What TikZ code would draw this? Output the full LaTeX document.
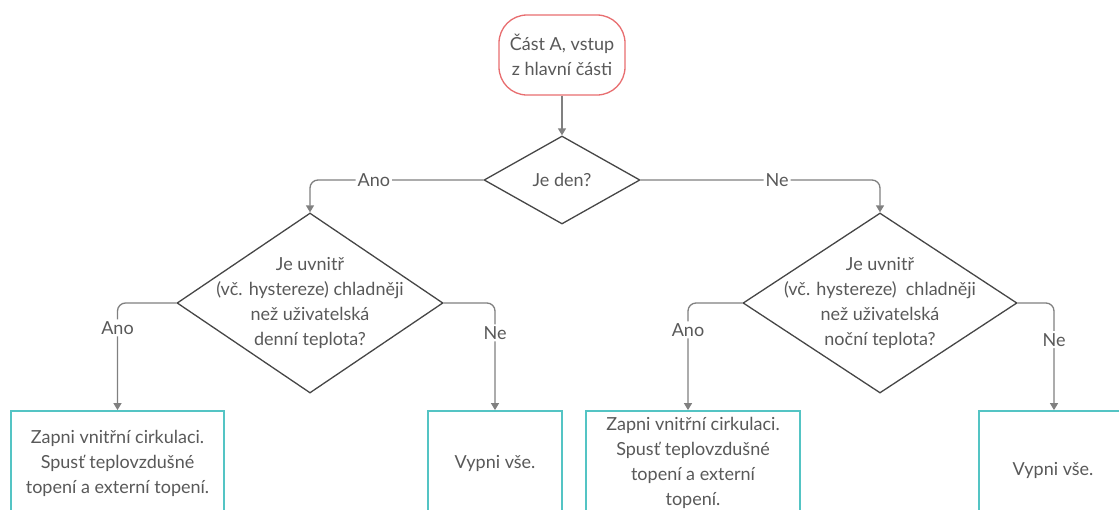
\documentclass[tikz,border=0pt]{standalone}
\usepackage{fontspec}
\setmainfont{Lato}
\usetikzlibrary{shapes.geometric,arrows.meta}
\definecolor{textgray}{RGB}{89,89,89}
\definecolor{startred}{RGB}{232,110,112}
\definecolor{boxteal}{RGB}{84,196,196}
\definecolor{diagray}{RGB}{70,70,70}
\definecolor{linegray}{RGB}{128,128,128}
\begin{document}
\begin{tikzpicture}[x=1pt,y=-1pt,
  txt/.style={font=\fontsize{18}{25}\selectfont, text=textgray, align=center, inner sep=0pt},
  startbox/.style={draw=startred, line width=1.3pt, rounded corners=28pt, minimum width=126pt, minimum height=80pt, txt},
  decision/.style={draw=diagray, line width=1.3pt, diamond, inner sep=0pt},
  actbox/.style={draw=boxteal, line width=1.8pt, txt},
  conn/.style={draw=linegray, line width=1.3pt, rounded corners=8pt, -{Triangle[length=7pt,width=8pt]}},
  lbl/.style={txt, fill=white, inner sep=2pt}]
\useasboundingbox (0,0) rectangle (1119,509);
\clip (0,0) rectangle (1119,509);
\fill[white] (0,0) rectangle (1119,509);

\node[startbox] (s) at (562,55) {Část A, vstup\\z hlavní části};

\node[decision, minimum width=156pt, minimum height=88pt] (d1) at (562,180) {};
\node[txt] (t1) at (d1) {Je den?};

\node[decision, minimum width=266pt, minimum height=180pt] (d2) at (310,303) {};
\node[txt] (t2) at (d2) {Je uvnitř\\(vč. hystereze) chladněji\\než uživatelská\\denní teplota?};

\node[decision, minimum width=274pt, minimum height=180pt] (d3) at (880,303) {};
\node[txt] (t3) at (d3) {Je uvnitř\\(vč. hystereze)~ chladněji\\než uživatelská\\noční teplota?};

\node[actbox, minimum width=213pt, minimum height=104pt] (b1) at (117.5,463) {Zapni vnitřní cirkulaci.\\Spusť teplovzdušné\\topení a externí topení.};
\node[actbox, minimum width=134pt, minimum height=104pt] (b2) at (495,463) {Vypni vše.};
\node[actbox, minimum width=214pt, minimum height=104pt] (b3) at (693,463) {Zapni vnitřní cirkulaci.\\Spusť teplovzdušné\\topení a externí\\topení.};
\node[actbox, minimum width=148pt, minimum height=118pt] (b4) at (1053,470) {Vypni vše.};

\draw[conn] (s.south) -- (d1.north);
\draw[conn] (d1.west) -| node[lbl,pos=0.316]{Ano} (d2.north);
\draw[conn] (d1.east) -| node[lbl,pos=0.285]{Ne} (d3.north);
\draw[conn] (d2.west) -| node[lbl,pos=0.616]{Ano} (b1.north);
\draw[conn] (d2.east) -| node[lbl,pos=0.639]{Ne} (b2.north);
\draw[conn] (d3.west) -| node[lbl,pos=0.625]{Ano} ([xshift=-5pt]b3.north);
\draw[conn] (d3.east) -| node[lbl,pos=0.671]{Ne} ([xshift=1pt]b4.north);
\end{tikzpicture}
\end{document}
